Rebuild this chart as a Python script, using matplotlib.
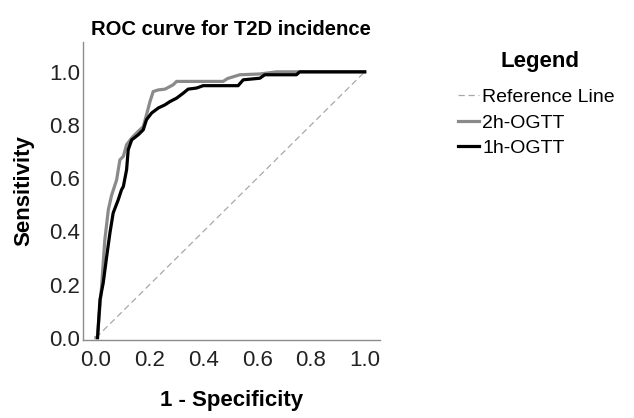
import numpy as np
import matplotlib
matplotlib.use("Agg")
import matplotlib.pyplot as plt

plt.rcParams['font.family'] = ['Liberation Sans', 'DejaVu Sans']

# ROC 曲线数据
ogtt2_x = [0, 0.005, 0.021, 0.033, 0.046, 0.058, 0.077, 0.089, 0.102, 0.114, 0.133, 0.157, 0.176,
           0.188, 0.201, 0.213, 0.232, 0.257, 0.287, 0.300, 0.473, 0.490, 0.535, 0.610, 0.672, 1.0]
ogtt2_y = [0, 0, 0.193, 0.368, 0.481, 0.535, 0.594, 0.669, 0.682, 0.726, 0.751, 0.776, 0.794,
           0.838, 0.888, 0.926, 0.932, 0.935, 0.951, 0.964, 0.964, 0.975, 0.989, 0.992, 1.0, 1.0]

ogtt1_x = [0.006, 0.015, 0.027, 0.040, 0.052, 0.064, 0.083, 0.095, 0.102, 0.114, 0.120, 0.133, 0.157,
           0.176, 0.188, 0.207, 0.232, 0.257, 0.275, 0.300, 0.325, 0.343, 0.374, 0.399, 0.529, 0.548,
           0.610, 0.628, 0.746, 0.758, 1.0]
ogtt1_y = [0, 0.143, 0.206, 0.306, 0.394, 0.469, 0.519, 0.556, 0.569, 0.632, 0.707, 0.744, 0.763,
           0.782, 0.820, 0.845, 0.864, 0.876, 0.888, 0.901, 0.920, 0.935, 0.939, 0.948, 0.948, 0.970,
           0.976, 0.989, 0.989, 1.0, 1.0]

ref_x = [0, 1]
ref_y = [0, 1]

ticks = [0.0, 0.2, 0.4, 0.6, 0.8, 1.0]
tick_labels = ['0.0', '0.2', '0.4', '0.6', '0.8', '1.0']

fig = plt.figure(figsize=(6.34, 4.18), dpi=100)
ax = fig.add_axes([0.131, 0.187, 0.468, 0.713])

ax.plot(ref_x, ref_y, color='#a8a8a8', lw=0.9, ls=(0, (5, 3)), label='Reference Line')
ax.plot(ogtt2_x, ogtt2_y, color='#8a8a8a', lw=2.3, label='2h-OGTT')
ax.plot(ogtt1_x, ogtt1_y, color='black', lw=2.3, label='1h-OGTT')

ax.set_xlim(-0.048, 1.056)
ax.set_ylim(-0.008, 1.113)
ax.set_xticks(ticks)
ax.set_xticklabels(tick_labels)
ax.set_yticks(ticks)
ax.set_yticklabels(tick_labels)
ax.tick_params(length=0, labelsize=16, colors='#222222', pad=2)
ax.tick_params(axis='x', pad=7)

for s in ['top', 'right']:
    ax.spines[s].set_visible(False)
for s in ['left', 'bottom']:
    ax.spines[s].set_color('#8c8c8c')
    ax.spines[s].set_linewidth(1.0)

ax.set_xlabel('1 - Specificity', fontsize=16, fontweight='bold', labelpad=14)
ax.set_ylabel('Sensitivity', fontsize=16, fontweight='bold', labelpad=11)
ax.set_title('ROC curve for T2D incidence', fontsize=14.6, fontweight='bold', pad=5)

# 图例标题单独放置，和条目之间留较大间距
fig.text(0.852, 0.852, 'Legend', fontsize=16, fontweight='bold', ha='center', va='center')
ax.legend(loc='upper left', bbox_to_anchor=(0.722, 0.788), bbox_transform=fig.transFigure,
          frameon=False, fontsize=14, handlelength=1.1, handletextpad=0.15,
          labelspacing=0.4, borderpad=0, borderaxespad=0)

fig.savefig('out.png', dpi=100)
